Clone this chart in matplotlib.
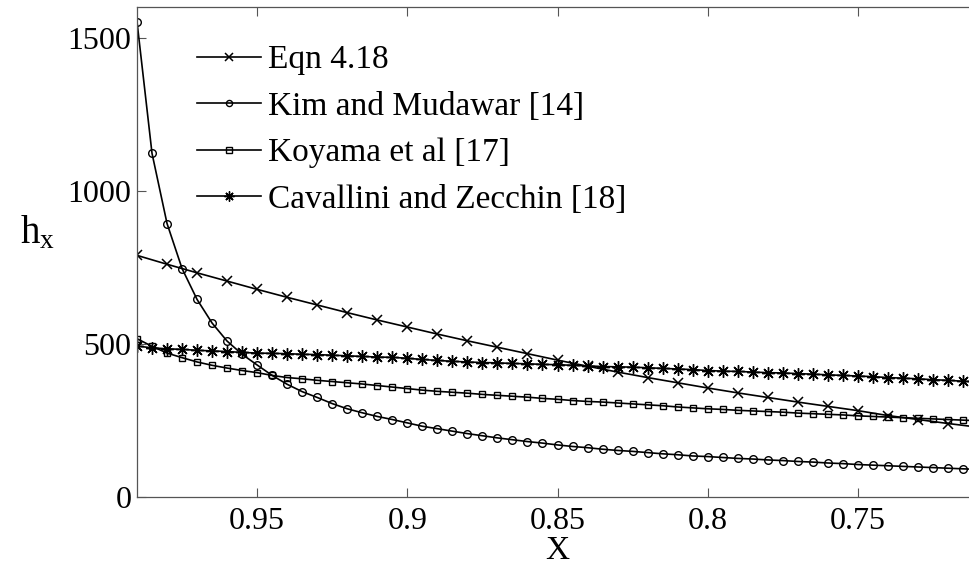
import matplotlib
matplotlib.use('Agg')
import matplotlib.pyplot as plt

plt.rcParams['font.family'] = ['Liberation Serif', 'DejaVu Serif']
plt.rcParams['mathtext.fontset'] = 'custom'
plt.rcParams['mathtext.rm'] = 'Liberation Serif'
plt.rcParams['mathtext.it'] = 'Liberation Serif'

# quality X, step 0.01 for Eqn 4.18
x_eqn = [0.99, 0.98, 0.97, 0.96, 0.95, 0.94, 0.93, 0.92, 0.91, 0.90,
         0.89, 0.88, 0.87, 0.86, 0.85, 0.84, 0.83, 0.82, 0.81, 0.80,
         0.79, 0.78, 0.77, 0.76, 0.75, 0.74, 0.73, 0.72, 0.71]
h_eqn = [789, 760, 732, 705, 678, 652, 627, 602, 578, 555,
         532, 510, 489, 468, 447, 427, 408, 390, 373, 356,
         340, 325, 310, 296, 282, 266, 253, 240, 228]

# quality X, step 0.005 for the correlations
x_corr = [0.99, 0.985, 0.98, 0.975, 0.97, 0.965, 0.96, 0.955, 0.95, 0.945,
          0.94, 0.935, 0.93, 0.925, 0.92, 0.915, 0.91, 0.905, 0.90, 0.895,
          0.89, 0.885, 0.88, 0.875, 0.87, 0.865, 0.86, 0.855, 0.85, 0.845,
          0.84, 0.835, 0.83, 0.825, 0.82, 0.815, 0.81, 0.805, 0.80, 0.795,
          0.79, 0.785, 0.78, 0.775, 0.77, 0.765, 0.76, 0.755, 0.75, 0.745,
          0.74, 0.735, 0.73, 0.725, 0.72, 0.715, 0.71]
h_kim = [1552, 1122, 893, 746, 645, 568, 509, 466, 431, 397,
         368, 344, 325, 305, 288, 275, 263, 253, 242, 231,
         223, 215, 207, 200, 193, 187, 181, 176, 170, 165,
         161, 156, 152, 149, 145, 141, 138, 134, 132, 129,
         126, 124, 121, 119, 116, 114, 111, 109, 106, 104,
         102, 100, 98, 96, 94, 92, 90]
h_koyama = [517, 492, 470, 455, 441, 430, 421, 413, 406, 397,
            390, 386, 381, 377, 373, 369, 364, 359, 354, 349,
            345, 342, 339, 335, 332, 329, 326, 322, 319, 315,
            312, 310, 307, 304, 301, 298, 294, 291, 288, 286,
            283, 281, 279, 277, 274, 272, 270, 268, 265, 263,
            261, 259, 257, 255, 253, 251, 249]
h_cav = [493, 487, 484, 482, 479, 477, 475, 472, 470, 469,
         468, 466, 465, 463, 461, 459, 457, 456, 453, 449,
         446, 443, 441, 439, 438, 436, 435, 433, 432, 430,
         428, 426, 425, 424, 422, 420, 418, 416, 413, 411,
         410, 408, 406, 405, 403, 401, 399, 397, 395, 393,
         390, 388, 386, 383, 381, 378, 376]

labels = ['Eqn 4.18', 'Kim and Mudawar [14]', 'Koyama et al [17]',
          'Cavallini and Zecchin [18]']
x_ticks = [0.95, 0.9, 0.85, 0.8, 0.75]
x_ticklabels = ['0.95', '0.9', '0.85', '0.8', '0.75']
y_ticks = [0, 500, 1000, 1500]

fig = plt.figure(figsize=(9.7, 5.65), dpi=100)
fig.set_facecolor('white')
ax = fig.add_axes([137/970, 68/565, 841/970, 490/565])

lw = 1.2
ax.plot(x_eqn, h_eqn, color='black', linewidth=lw, marker='x',
        markersize=7, markeredgewidth=1.1, label=labels[0])
ax.plot(x_corr, h_kim, color='black', linewidth=lw, marker='o',
        markersize=5.5, markerfacecolor='none', markeredgewidth=1.0,
        label=labels[1])
ax.plot(x_corr, h_koyama, color='black', linewidth=lw, marker='s',
        markersize=5, markerfacecolor='none', markeredgewidth=1.0,
        label=labels[2])
ax.plot(x_corr, h_cav, color='black', linewidth=lw, marker=(8, 2, 0),
        markersize=9, markeredgewidth=1.0, label=labels[3])

ax.set_xlim(0.99, 0.71)
ax.set_ylim(0, 1600)
ax.set_xticks(x_ticks)
ax.set_xticklabels(x_ticklabels)
ax.set_yticks(y_ticks)

for s in ['left', 'bottom', 'top', 'right']:
    ax.spines[s].set_color('#555555')
    ax.spines[s].set_linewidth(0.9)
ax.tick_params(direction='in', length=6.5, width=0.8, color='#555555',
               labelsize=23, top=True, right=False)
ax.tick_params(axis='x', pad=7)
ax.tick_params(axis='y', pad=4)

ax.set_xlabel('X', fontsize=24, labelpad=0)
ax.set_ylabel(r'$\mathregular{h_x}$', fontsize=28, rotation=0)
ax.yaxis.set_label_coords(-0.118, 0.50)

ax.legend(loc='upper left', bbox_to_anchor=(0.0713, 0.923), frameon=False,
          fontsize=24, handlelength=1.92, handletextpad=0.22,
          labelspacing=0.48, borderpad=0, borderaxespad=0, markerscale=0.8)

plt.savefig('out.png', dpi=100)
